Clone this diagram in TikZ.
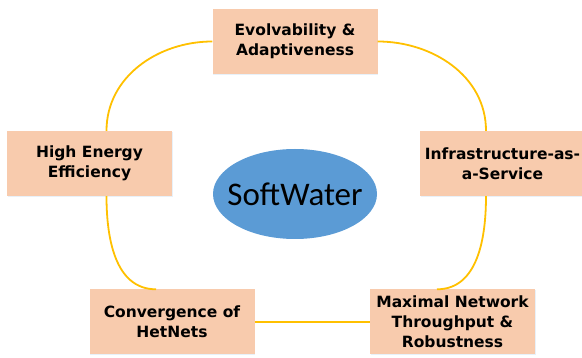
\documentclass[tikz,border=0pt]{standalone}
\usepackage{fontspec}
\setmainfont{DejaVu Sans}
\newfontfamily\calfont{Carlito}
\usetikzlibrary{positioning,shapes.geometric,shadows}
\definecolor{peach}{HTML}{F8CBAD}
\definecolor{swblue}{HTML}{5B9BD5}
\definecolor{gold}{HTML}{FFC000}

\begin{document}
\begin{tikzpicture}[node distance=120pt,on grid,
		goal/.style={rectangle,fill=peach,minimum width=165pt,minimum height=65pt,
			align=center,inner sep=0pt,font=\bfseries\fontsize{15.5}{20}\selectfont,
			drop shadow={shadow xshift=0.6pt,shadow yshift=-1pt,fill=swblue!40,opacity=0.35}},
		core/.style={ellipse,fill=swblue,minimum width=164pt,minimum height=90pt,
			inner xsep=-10pt,inner ysep=0pt,font=\calfont\fontsize{33}{36}\selectfont},
		link/.style={draw=gold,line width=1.8pt}]
	\useasboundingbox (0,0) rectangle (582pt,-358pt);
	\node[goal] (evo) at (295pt,-41.5pt) {Evolvability \&\\Adaptiveness};
	\node[goal] (energy) [below left=122pt and 205.5pt of evo] {High Energy\\Efficiency};
	\node[goal] (iaas) [below right=122pt and 207.5pt of evo] {Infrastructure-as-\\a-Service};
	\node[core] (sw) [below=152.5pt of evo] {SoftWater};
	\node[goal] (hetnet) [below left=280.5pt and 123pt of evo] {Convergence of\\HetNets};
	\node[goal] (mnt) [below right=280.5pt and 157.5pt of evo] {Maximal Network\\Throughput \&\\Robustness};
	\path[link]
	(evo.west) edge[out=180,in=90] ([xshift=17pt]energy.north)
	(evo.east) edge[out=0,in=90] ([xshift=-16.5pt]iaas.north)
	([xshift=17pt]energy.south) edge[out=-90,in=180] ([xshift=-16pt]hetnet.north)
	([xshift=-16.5pt]iaas.south) edge[out=-90,in=0] ([xshift=-15.5pt]mnt.north)
	(hetnet) edge (mnt);
\end{tikzpicture}
\end{document}
